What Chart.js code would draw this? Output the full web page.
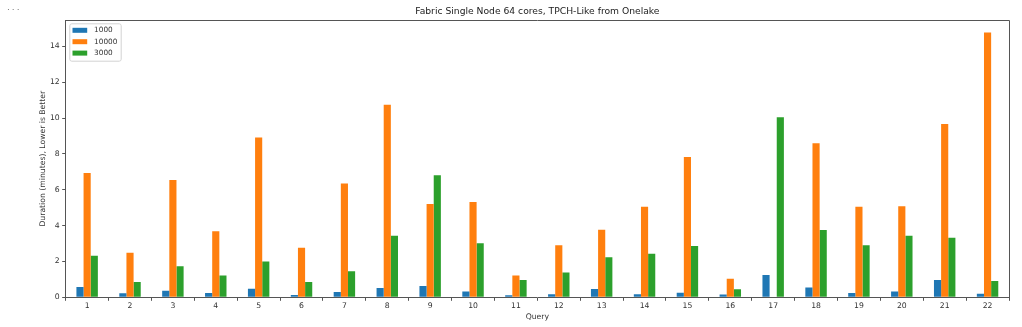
<!DOCTYPE html>
<html>
<head>
<meta charset="utf-8">
<script src="https://cdn.jsdelivr.net/npm/chart.js@4"></script>
<style>
  html, body { margin: 0; padding: 0; background: #fff; }
  #wrap { position: relative; width: 1022px; height: 327px; }
  #dots { position: absolute; left: 7px; top: 2px; font: 9px 'DejaVu Sans'; color: #777; letter-spacing: 2px; }
</style>
</head>
<body>
<div id="wrap">
  <canvas id="chart" width="1022" height="327"></canvas>
  <div id="dots">...</div>
</div>
<script>
const queries = ['1','2','3','4','5','6','7','8','9','10','11','12','13','14','15','16','17','18','19','20','21','22'];
const sf1000 = [0.57, 0.22, 0.37, 0.24, 0.48, 0.13, 0.30, 0.52, 0.63, 0.32, 0.11, 0.17, 0.46, 0.17, 0.26, 0.15, 1.24, 0.54, 0.24, 0.32, 0.96, 0.20];
const sf10000 = [6.94, 2.49, 6.55, 3.69, 8.91, 2.76, 6.35, 10.74, 5.21, 5.31, 1.21, 2.91, 3.77, 5.05, 7.83, 1.04, 0, 8.59, 5.05, 5.08, 9.67, 14.77];
const sf3000 = [2.32, 0.85, 1.73, 1.21, 2.00, 0.85, 1.45, 3.43, 6.81, 3.01, 0.96, 1.39, 2.24, 2.43, 2.86, 0.45, 10.04, 3.75, 2.91, 3.43, 3.32, 0.91];
const yTicks = [0, 2, 4, 6, 8, 10, 12, 14];

const c1 = '#1f77b4';
const c2 = '#ff7f0e';
const c3 = '#2ca02c';
const axisColor = '#555';
const textColor = '#333';
const font = 'DejaVu Sans';

// title, frame on all four sides and a matplotlib style legend box
const decorations = {
  id: 'decorations',
  afterDatasetsDraw(chart) {
    const ctx = chart.ctx;
    const a = chart.chartArea;
    ctx.save();

    // legend
    const x = a.left + 3.6, y = a.top + 3.3, w = 51.4, h = 37.4;
    ctx.fillStyle = 'rgba(255,255,255,0.8)';
    ctx.strokeStyle = '#d3d3d3';
    ctx.lineWidth = 1;
    ctx.beginPath();
    ctx.roundRect(x + 0.5, y + 0.5, w, h, 2);
    ctx.fill();
    ctx.stroke();
    ctx.font = '7.3px "' + font + '"';
    ctx.textBaseline = 'middle';
    chart.data.datasets.forEach((ds, i) => {
      const cy = y + 7 + i * 11.4;
      ctx.fillStyle = ds.backgroundColor;
      ctx.fillRect(x + 3.2, cy - 2.5, 14.7, 5);
      ctx.fillStyle = textColor;
      ctx.fillText(ds.label, x + 24.8, cy);
    });

    // top and right spines
    ctx.strokeStyle = axisColor;
    ctx.lineWidth = 1;
    ctx.beginPath();
    ctx.moveTo(a.left, a.top + 0.5);
    ctx.lineTo(a.right + 0.5, a.top + 0.5);
    ctx.lineTo(a.right + 0.5, a.bottom);
    ctx.stroke();

    // title
    ctx.fillStyle = '#222';
    ctx.font = '9.2px "' + font + '"';
    ctx.textAlign = 'center';
    ctx.textBaseline = 'middle';
    ctx.fillText('Fabric Single Node 64 cores, TPCH-Like from Onelake', (a.left + a.right) / 2, 12);
    ctx.restore();
  }
};

new Chart(document.getElementById('chart'), {
  type: 'bar',
  data: {
    labels: queries,
    datasets: [
      { label: '1000', data: sf1000, backgroundColor: c1 },
      { label: '10000', data: sf10000, backgroundColor: c2 },
      { label: '3000', data: sf3000, backgroundColor: c3 },
    ]
  },
  options: {
    responsive: false,
    animation: false,
    maintainAspectRatio: false,
    layout: { padding: { left: 0, top: 20, right: 13, bottom: 0 } },
    datasets: { bar: { categoryPercentage: 0.5, barPercentage: 1.0 } },
    plugins: {
      legend: { display: false },
      title: { display: false },
      tooltip: { enabled: false }
    },
    scales: {
      x: {
        grid: { drawOnChartArea: false, drawTicks: true, tickLength: 3.5, color: axisColor },
        border: { color: axisColor, width: 1 },
        ticks: { color: textColor, font: { family: font, size: 7.7 }, padding: 1, maxRotation: 0 },
        title: { display: true, text: 'Query', color: textColor, font: { family: font, size: 7.7 }, padding: { top: 0, bottom: 5.7 } },
        afterFit(scale) { scale.height = 29.7; }
      },
      y: {
        min: 0,
        max: 15.47,
        grid: { drawOnChartArea: false, drawTicks: true, tickLength: 3.5, color: axisColor },
        border: { color: axisColor, width: 1 },
        ticks: { color: textColor, font: { family: font, size: 7.7 }, padding: 2.5, stepSize: 2 },
        afterBuildTicks(scale) { scale.ticks = yTicks.map(v => ({ value: v })); },
        title: { display: true, text: 'Duration (minutes), Lower is Better', color: textColor, font: { family: font, size: 7.7 }, padding: { top: 38.4, bottom: 0 } },
        afterFit(scale) { scale.width = 65.7; }
      }
    }
  },
  plugins: [decorations]
});
</script>
</body>
</html>
